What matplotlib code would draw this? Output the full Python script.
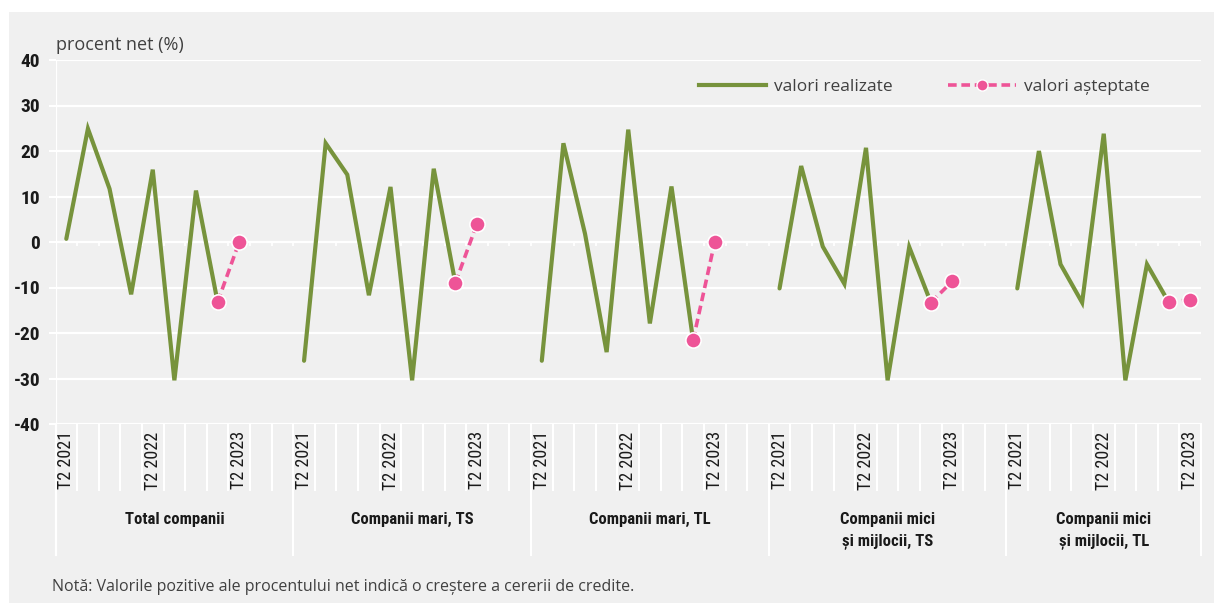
import matplotlib
matplotlib.use("Agg")
import matplotlib.pyplot as plt
from matplotlib import font_manager as fm
from matplotlib.lines import Line2D
from matplotlib.patches import Rectangle
import matplotlib.transforms as mtransforms

# Date (procent net, %)
grupuri = ["Total companii", "Companii mari, TS", "Companii mari, TL",
           "Companii mici\nși mijlocii, TS", "Companii mici\nși mijlocii, TL"]
trimestre = ["T2 2021", "T3 2021", "T4 2021", "T1 2022", "T2 2022",
             "T3 2022", "T4 2022", "T1 2023", "T2 2023"]
etichete_afisate = ["T2 2021", "T2 2022", "T2 2023"]

realizate_total = [0.7, 24.9, 11.7, -11.5, 15.9, -30.4, 11.3, -13.2]
realizate_mari_ts = [-26.1, 21.7, 14.8, -11.7, 12.1, -30.4, 16.1, -9.0]
realizate_mari_tl = [-26.1, 21.7, 1.8, -24.2, 24.7, -17.9, 12.2, -21.6]
realizate_imm_ts = [-10.2, 16.7, -1.0, -9.2, 20.7, -30.4, -1.1, -13.3]
realizate_imm_tl = [-10.2, 20.0, -4.9, -13.3, 23.8, -30.4, -4.9, -13.2]

asteptate_total = [-13.2, 0.0]
asteptate_mari_ts = [-9.0, 4.0]
asteptate_mari_tl = [-21.6, 0.0]
asteptate_imm_ts = [-13.3, -8.6]
asteptate_imm_tl = [-13.2, -12.7]

realizate = [realizate_total, realizate_mari_ts, realizate_mari_tl,
             realizate_imm_ts, realizate_imm_tl]
asteptate = [asteptate_total, asteptate_mari_ts, asteptate_mari_tl,
             asteptate_imm_ts, asteptate_imm_tl]

plt.rcParams["axes.unicode_minus"] = False

# Stil
verde = "#77933C"
roz = "#EE5497"
fundal = "#F0F0F0"
font_text = ["Open Sans", "DejaVu Sans"]


def greutate(f):
    w = f.weight
    if isinstance(w, str):
        return 700 if "bold" in w.lower() else 400
    return w


# cauta un font ingust (condensed / narrow), daca exista
def font_ingust():
    intrari = [f for f in fm.fontManager.ttflist
               if f.fname.lower().endswith((".ttf", ".otf"))]
    ingusti = [f for f in intrari
               if ("narrow" in f.name.lower() or "condensed" in f.name.lower()
                   or str(f.stretch) in ("condensed", "semi-condensed"))
               and f.style == "normal"]
    pref = ["Liberation Sans Narrow", "Roboto Condensed", "Open Sans",
            "Noto Sans", "DejaVu Sans", "Lato", "Roboto"]
    for p in pref:
        cand = [f for f in ingusti if f.name == p]
        if cand:
            norm = [f for f in cand if 350 <= greutate(f) <= 450]
            bold = [f for f in cand if greutate(f) >= 600]
            fr = (norm or cand)[0].fname
            fb = (bold or norm or cand)[0].fname
            return fr, fb
    return None


gasit = font_ingust()
if gasit:
    def fp_n(size):
        return fm.FontProperties(fname=gasit[0], size=size)

    def fp_b(size):
        return fm.FontProperties(fname=gasit[1], size=size)
    k = 1.0
else:
    def fp_n(size):
        return fm.FontProperties(family="DejaVu Sans", size=size)

    def fp_b(size):
        return fm.FontProperties(family="DejaVu Sans", weight="bold", size=size)
    k = 0.85

W, H = 1214, 603
fig = plt.figure(figsize=(W / 100, H / 100), dpi=100)
fig.patch.set_facecolor("white")
fig.patches.append(Rectangle((9 / W, 0), 1 - 9 / W, (H - 12) / H,
                             transform=fig.transFigure, facecolor=fundal,
                             edgecolor="none", zorder=-10))

x0, x1, ytop, ybot = 55.5, 1201, 60, 424
ax = fig.add_axes([x0 / W, (H - ybot) / H, (x1 - x0) / W, (ybot - ytop) / H])
ax.set_facecolor(fundal)
for s in ax.spines.values():
    s.set_visible(False)

# 5 grupuri, 11 sloturi fiecare (ultimul 9)
latime_grup = 11
nslot = 4 * latime_grup + len(trimestre)
ax.set_xlim(0, nslot)
ax.set_ylim(-40, 40)
ax.set_yticks(range(-40, 41, 10))
ax.grid(axis="y", color="white", lw=1.6, zorder=1)
ax.set_axisbelow(True)
ax.tick_params(axis="y", length=5, width=1.5, color="white", pad=6,
               labelcolor="#1a1a1a")
for lab in ax.get_yticklabels():
    lab.set_fontproperties(fp_b(14 * k))
ax.set_xticks([])
ax.axvline(0, color="white", lw=1.6, zorder=1)

trans = mtransforms.blended_transform_factory(ax.transData, ax.transAxes)

for g in range(len(grupuri)):
    start = g * latime_grup
    xs = [start + i + 0.5 for i in range(len(trimestre))]
    ax.plot(xs[:len(realizate[g])], realizate[g], color=verde, lw=3,
            solid_joinstyle="miter", solid_capstyle="round", zorder=3)
    ax.plot(xs[-2:], asteptate[g], color=roz, lw=2.6, ls=(0, (2.4, 1.3)),
            marker="o", ms=11, mfc=roz, mec="white", mew=1.2, zorder=4)
    # etichete trimestre
    for i, t in enumerate(trimestre):
        if t in etichete_afisate:
            ax.text(xs[i], -0.02, t, transform=trans, rotation=90,
                    ha="center", va="top", fontproperties=fp_n(13 * k),
                    color="#1a1a1a")
    # denumire grup
    n = latime_grup if g < len(grupuri) - 1 else len(trimestre)
    ax.text(start + n / 2, -0.243, grupuri[g], transform=trans, ha="center",
            va="top", fontproperties=fp_b(12 * k), color="#1a1a1a",
            linespacing=1.5)

# linii verticale in zona etichetelor
for b in range(1, nslot + 1):
    gr = (b % latime_grup == 0) or b == nslot
    ax.plot([b, b], [0, -0.18 if not gr else -0.36], transform=trans,
            color="white", lw=1.5, clip_on=False, zorder=1)
    ax.plot([b, b], [0, -0.8], color="white", lw=1.3, zorder=2,
            solid_capstyle="butt")
ax.plot([0, 0], [0, -0.36], transform=trans, color="white", lw=1.6,
        clip_on=False)

# text
fig.text(56 / W, 1 - 45 / H, "procent net (%)", fontsize=13, family=font_text,
         color="#404040", va="center", ha="left")
fig.text(52 / W, 1 - 587 / H,
         "Notă: Valorile pozitive ale procentului net indică o creștere a cererii de credite.",
         fontsize=11.5, family=font_text, color="#404040", va="center", ha="left")

handles = [Line2D([], [], color=verde, lw=3),
           Line2D([], [], color=roz, lw=2.6, ls=(0, (2.4, 1.3)), marker="o",
                  ms=8, mfc=roz, mec="white", mew=1)]
leg = fig.legend(handles, ["valori realizate", "valori așteptate"],
                 loc="center left", bbox_to_anchor=(683 / W, 1 - 87 / H),
                 ncol=2, frameon=False, handlelength=3.9, handletextpad=0.45,
                 columnspacing=3.2, prop={"family": font_text, "size": 12.5})
for t in leg.get_texts():
    t.set_color("#404040")

fig.savefig("out.png", dpi=100, facecolor=fig.get_facecolor())
